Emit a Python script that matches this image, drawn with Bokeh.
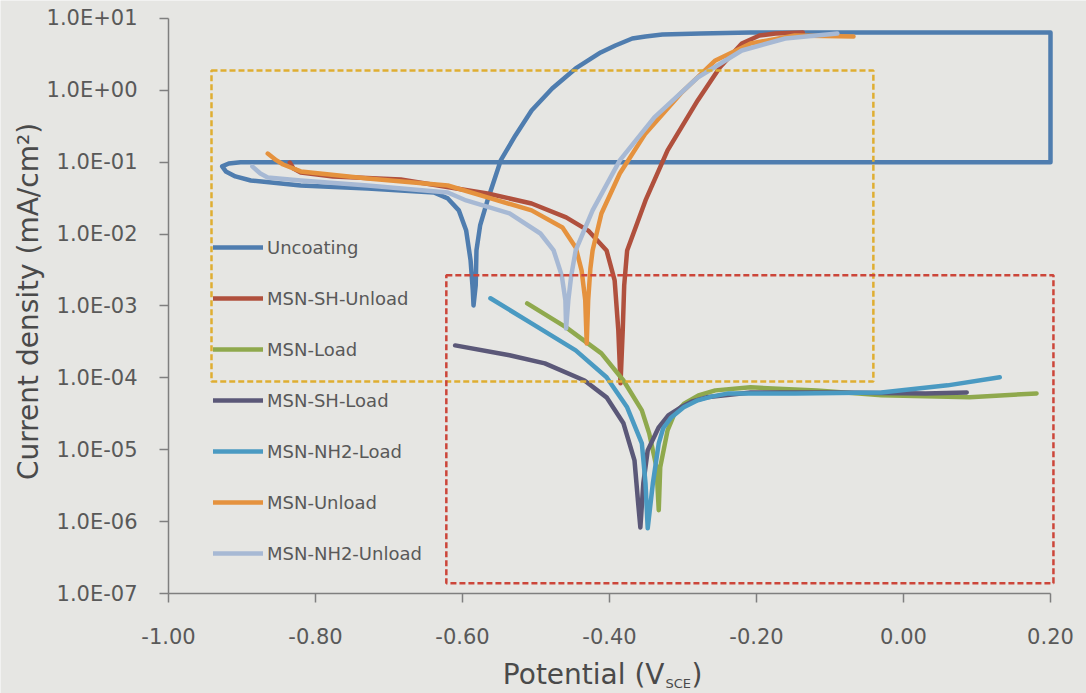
import math

from bokeh.plotting import figure
from bokeh.models import (Range1d, FixedTicker, Legend, LegendItem, Label, BoxAnnotation)
from bokeh.embed import file_html
from bokeh.resources import INLINE

# Potentiodynamic polarisation curves: potential (V vs SCE) and current density (mA/cm2)
uncoating_v = [0.20, -0.902, -0.918, -0.927, -0.922, -0.909, -0.888, -0.820, -0.729, -0.639,
               -0.620, -0.605, -0.595, -0.589, -0.586, -0.585, -0.582, -0.581, -0.576, -0.566,
               -0.548, -0.528, -0.506, -0.478, -0.446, -0.412, -0.392, -0.369, -0.351, -0.328,
               -0.276, -0.208, 0.20, 0.20]
uncoating_i = [0.1, 0.1, 0.096, 0.0875, 0.0745, 0.0635, 0.0558, 0.0475, 0.0432, 0.038,
               0.0314, 0.0214, 0.0112, 0.0043, 0.00165, 0.00102, 0.00194, 0.00593, 0.0132, 0.0294,
               0.106, 0.236, 0.525, 1.06, 2.02, 3.37, 4.21, 5.27, 5.62, 5.98,
               6.18, 6.4, 6.4, 0.1]

msn_sh_unload_v = [-0.835, -0.830, -0.820, -0.776, -0.684, -0.566, -0.506, -0.459, -0.429, -0.404,
                   -0.393, -0.388, -0.385, -0.382, -0.380, -0.376, -0.351, -0.321, -0.280, -0.250,
                   -0.220, -0.196, -0.174, -0.137]
msn_sh_unload_i = [0.099, 0.082, 0.0721, 0.0635, 0.0577, 0.0368, 0.0267, 0.0171, 0.0112, 0.00593,
                   0.00227, 4.58e-4, 8.4e-5, 4.58e-4, 0.00194, 0.00593, 0.0294, 0.146, 0.724, 2.08,
                   4.49, 5.80, 6.18, 6.38]

msn_load_v = [-0.512, -0.459, -0.411, -0.381, -0.356, -0.346, -0.336, -0.333, -0.331, -0.321,
              -0.312, -0.298, -0.279, -0.256, -0.208, -0.118, -0.030, 0.090, 0.181]
msn_load_i = [1.09e-3, 5.04e-4, 2.19e-4, 9.2e-5, 3.53e-5, 1.69e-5, 5.69e-6, 1.44e-6, 5.69e-6, 1.86e-5,
              3.1e-5, 4.42e-5, 5.71e-5, 6.70e-5, 7.38e-5, 6.70e-5, 5.71e-5, 5.36e-5, 6.08e-5]

msn_sh_load_v = [-0.610, -0.536, -0.488, -0.434, -0.404, -0.381, -0.366, -0.361, -0.358, -0.354,
                 -0.348, -0.333, -0.320, -0.303, -0.287, -0.268, -0.208, -0.090, 0.030, 0.086]
msn_sh_load_i = [2.83e-4, 2.06e-4, 1.59e-4, 9.2e-5, 5.36e-5, 2.33e-5, 7.13e-6, 1.80e-6, 8.3e-7, 3.41e-6,
                 9.8e-6, 2.05e-5, 3.0e-5, 3.89e-5, 4.71e-5, 5.36e-5, 6.28e-5, 6.28e-5, 6.08e-5, 6.28e-5]

msn_nh2_load_v = [-0.562, -0.506, -0.446, -0.404, -0.376, -0.356, -0.351, -0.348, -0.341, -0.333,
                  -0.327, -0.316, -0.299, -0.280, -0.260, -0.238, -0.148, -0.030, 0.060, 0.131]
msn_nh2_load_i = [1.28e-3, 5.73e-4, 2.41e-4, 1.02e-4, 3.89e-5, 1.23e-5, 3.41e-6, 8.07e-7, 3.41e-6, 1.23e-5,
                  1.99e-5, 2.82e-5, 3.89e-5, 4.87e-5, 5.53e-5, 6.08e-5, 6.08e-5, 6.28e-5, 7.87e-5, 1.02e-4]

msn_unload_v = [-0.865, -0.853, -0.844, -0.820, -0.729, -0.620, -0.566, -0.506, -0.464, -0.446,
                -0.438, -0.433, -0.431, -0.429, -0.426, -0.423, -0.411, -0.386, -0.351, -0.303,
                -0.256, -0.208, -0.148, -0.068]
msn_unload_i = [0.132, 0.106, 0.0931, 0.0745, 0.0595, 0.0475, 0.0324, 0.0214, 0.0124, 0.00653,
                0.00313, 0.0012, 3.02e-4, 0.0012, 0.00333, 0.00593, 0.0194, 0.0698, 0.252, 0.906,
                2.61, 4.49, 5.80, 5.62]

msn_nh2_unload_v = [-0.886, -0.875, -0.865, -0.820, -0.729, -0.620, -0.595, -0.536, -0.494, -0.476,
                    -0.465, -0.460, -0.459, -0.456, -0.452, -0.446, -0.423, -0.386, -0.339, -0.280,
                    -0.220, -0.161, -0.090]
msn_nh2_unload_i = [0.0875, 0.0698, 0.0615, 0.0558, 0.0475, 0.038, 0.0294, 0.0194, 0.0102, 0.00593,
                    0.00267, 0.0012, 4.88e-4, 0.0012, 0.00267, 0.00593, 0.0214, 0.106, 0.420, 1.51,
                    3.59, 5.27, 6.18]

series_names = ["Uncoating", "MSN-SH-Unload", "MSN-Load", "MSN-SH-Load",
                "MSN-NH2-Load", "MSN-Unload", "MSN-NH2-Unload"]
series_colors = ["#4f7daf", "#b0503d", "#8fa94d", "#5b5878", "#4a9ac2", "#e5923e", "#a7b9d4"]
series_data = [(uncoating_v, uncoating_i), (msn_sh_unload_v, msn_sh_unload_i),
               (msn_load_v, msn_load_i), (msn_sh_load_v, msn_sh_load_i),
               (msn_nh2_load_v, msn_nh2_load_i), (msn_unload_v, msn_unload_i),
               (msn_nh2_unload_v, msn_nh2_unload_i)]

# Highlight boxes (potential range, current range)
unloaded_box = dict(left=-0.9415, right=-0.041, bottom=8.9e-5, top=1.89)
loaded_box = dict(left=-0.622, right=0.204, bottom=1.39e-7, top=2.67e-3)

x_ticks = [-1.0, -0.8, -0.6, -0.4, -0.2, 0.0, 0.2]
x_tick_labels = ["-1.00", "-0.80", "-0.60", "-0.40", "-0.20", "0.00", "0.20"]
y_ticks = [1e-7, 1e-6, 1e-5, 1e-4, 1e-3, 1e-2, 1e-1, 1e0, 1e1]
y_tick_labels = ["1.0E-07", "1.0E-06", "1.0E-05", "1.0E-04", "1.0E-03",
                 "1.0E-02", "1.0E-01", "1.0E+00", "1.0E+01"]

FONT = "DejaVu Sans"
BG = "#e6e6e3"
AXIS_GREY = "#7f7f7f"
TEXT_GREY = "#595959"
TITLE_GREY = "#4a4a4a"

# The plotting frame fills the whole page; both axes are pinned to the corner of the
# data area (-1.00 V, 1e-7 mA/cm2) so that tick labels and titles all live inside it.
p = figure(width=1086, height=693, y_axis_type="log",
           x_range=Range1d(-1.22857, 0.24898), y_range=Range1d(10 ** -8.3913, 10 ** 1.25043),
           output_backend="svg", toolbar_location=None,
           min_border=0, min_border_left=0, min_border_right=0,
           min_border_top=0, min_border_bottom=0)
p.background_fill_color = BG
p.border_fill_color = BG
p.outline_line_color = None
p.xgrid.visible = False
p.ygrid.visible = False

for ax in (p.xaxis[0], p.yaxis[0]):
    ax.axis_line_color = AXIS_GREY
    ax.axis_line_width = 1.5
    ax.major_tick_line_color = AXIS_GREY
    ax.major_tick_line_width = 1.5
    ax.minor_tick_line_color = None
    ax.major_tick_in = 0
    ax.major_tick_out = 9
    ax.major_label_text_font = FONT
    ax.major_label_text_font_size = "21px"
    ax.major_label_text_color = TEXT_GREY

p.xaxis.ticker = FixedTicker(ticks=x_ticks)
p.xaxis.major_label_overrides = dict(zip(x_ticks, x_tick_labels))
p.xaxis.major_label_standoff = 25
p.xaxis.fixed_location = 1e-7
p.xaxis.bounds = (-1.0, 0.2)

p.yaxis.ticker = FixedTicker(ticks=y_ticks)
p.yaxis.major_label_overrides = dict(zip(y_ticks, y_tick_labels))
p.yaxis.major_label_standoff = 22
p.yaxis.fixed_location = -1.0
p.yaxis.bounds = (1e-7, 1e1)

for spec, color in ((unloaded_box, "#dfae32"), (loaded_box, "#cc463a")):
    p.add_layout(BoxAnnotation(fill_alpha=0, line_color=color, line_alpha=1.0, line_width=2.5,
                               line_dash="6 3", **spec))

renderers = []
for (v, i), color in zip(series_data, series_colors):
    r = p.line(v, i, line_color=color, line_width=4.5, line_cap="round", line_join="round")
    renderers.append(r)

legend = Legend(items=[LegendItem(label=n, renderers=[r]) for n, r in zip(series_names, renderers)],
                location=(213, 127), orientation="vertical",
                glyph_width=50, glyph_height=26, label_height=26, spacing=25,
                padding=0, margin=0, label_standoff=4,
                background_fill_alpha=0, border_line_alpha=0,
                label_text_font=FONT, label_text_font_size="18px", label_text_color=TEXT_GREY)
p.add_layout(legend)

title_style = dict(x_units="screen", y_units="screen", text_font=FONT, text_color=TITLE_GREY)

# y-axis title, reading upwards
p.add_layout(Label(x=28, y=392, angle=math.pi / 2, text="Current density (mA/cm\u00b2)",
                   text_align="center", text_baseline="middle", text_font_size="28px",
                   **title_style))

# x-axis title with subscript
p.add_layout(Label(x=664, y=19, text="Potential (V", text_align="right",
                   text_baseline="alphabetic", text_font_size="28px", **title_style))
p.add_layout(Label(x=665, y=10, text="SCE", text_align="left",
                   text_baseline="alphabetic", text_font_size="13px", **title_style))
p.add_layout(Label(x=691, y=19, text=")", text_align="left",
                   text_baseline="alphabetic", text_font_size="28px", **title_style))

open("out.html", "w").write(file_html(p, INLINE))
